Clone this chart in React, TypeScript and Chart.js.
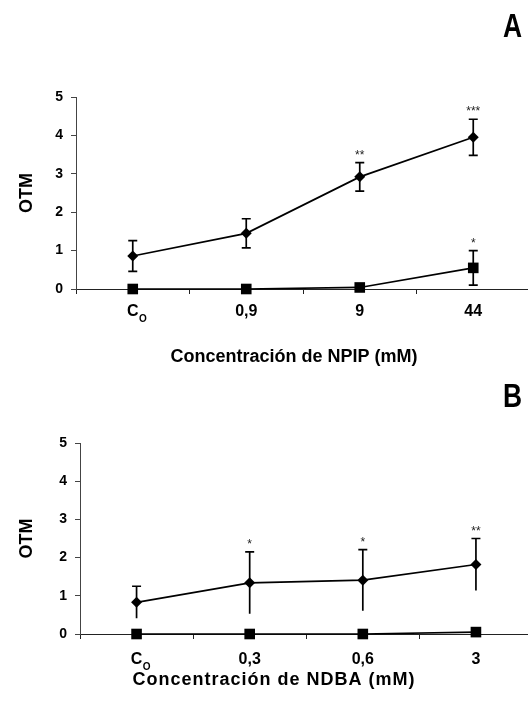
import { useEffect, useRef } from 'react';
import { Chart, registerables } from 'chart.js';

Chart.register(...registerables);

// Category labels (the control "C" gets a subscript "O")
const LABELS_NPIP = ['C', '0,9', '9', '44'];
const LABELS_NDBA = ['C', '0,3', '0,6', '3'];
const LABEL_SUBSCRIPTS = ['O', '', '', ''];
const Y_MIN = 0;
const Y_MAX = 5;
const Y_STEP = 1;

// Panel A: NPIP
const NPIP_DIAMOND = [0.86, 1.45, 2.92, 3.95];
const NPIP_DIAMOND_SD = [0.4, 0.38, 0.37, 0.47];
const NPIP_DIAMOND_STARS = ['', '', '**', '***'];
const NPIP_SQUARE = [0, 0, 0.04, 0.55];
const NPIP_SQUARE_SD = [0, 0, 0, 0.45];
const NPIP_SQUARE_STARS = ['', '', '', '*'];

// Panel B: NDBA
const NDBA_DIAMOND = [0.83, 1.34, 1.41, 1.82];
const NDBA_DIAMOND_SD = [0.42, 0.81, 0.8, 0.68];
const NDBA_DIAMOND_STARS = ['', '*', '*', '**'];
const NDBA_SQUARE = [0, 0, 0, 0.05];
const NDBA_SQUARE_SD = [0, 0, 0, 0.1];
const NDBA_SQUARE_STARS = ['', '', '', ''];

const SANS = "'Liberation Sans', Arial, sans-serif";
const TICK_X_SIZE = 16;

type PanelSpec = {
  letter: string;
  xTitle: string;
  xTitleSpacing: number;
  labels: string[];
  diamond: number[];
  diamondSd: number[];
  diamondStars: string[];
  diamondBottomCap: boolean;
  square: number[];
  squareSd: number[];
  squareStars: string[];
  canvasHeight: number;
  padTop: number;
  padRight: number;
  yAxisWidth: number;
  xAxisHeight: number;
  tickPad: number;
  xTitleBaseline: number;
  xTitleCenter: number;
};

const decorPlugin = {
  id: 'panelDecor',
  beforeDatasetsDraw(chart: any) {
    const ctx = chart.ctx;
    const ys = chart.scales.y;
    ctx.save();
    ctx.strokeStyle = '#000';
    ctx.lineWidth = 1.7;
    chart.data.datasets.forEach((ds: any, i: number) => {
      const meta = chart.getDatasetMeta(i);
      meta.data.forEach((pt: any, j: number) => {
        const sd = ds.sd[j];
        if (!sd) return;
        const v = ds.data[j];
        const top = ys.getPixelForValue(v + sd);
        const bot = ys.getPixelForValue(v - sd);
        const cap = 4.5;
        ctx.beginPath();
        ctx.moveTo(pt.x, top);
        ctx.lineTo(pt.x, bot);
        ctx.moveTo(pt.x - cap, top);
        ctx.lineTo(pt.x + cap, top);
        if (ds.bottomCap) {
          ctx.moveTo(pt.x - cap, bot);
          ctx.lineTo(pt.x + cap, bot);
        }
        ctx.stroke();
      });
    });
    ctx.restore();
  },
  afterDraw(chart: any, _args: any, opts: any) {
    const ctx = chart.ctx;
    const ys = chart.scales.y;
    const xs = chart.scales.x;
    const area = chart.chartArea;
    ctx.save();

    // significance marks above the error bars
    ctx.fillStyle = '#222';
    ctx.font = `12px ${SANS}`;
    ctx.textAlign = 'center';
    ctx.textBaseline = 'alphabetic';
    chart.data.datasets.forEach((ds: any, i: number) => {
      const meta = chart.getDatasetMeta(i);
      meta.data.forEach((pt: any, j: number) => {
        const s = ds.stars[j];
        if (!s) return;
        const top = ys.getPixelForValue(ds.data[j] + ds.sd[j]);
        ctx.fillText(s, pt.x, top - 4);
      });
    });

    // subscripts on the category labels
    ctx.fillStyle = '#000';
    ctx.textAlign = 'left';
    LABEL_SUBSCRIPTS.forEach((sub, j) => {
      if (!sub) return;
      const x = xs.getPixelForValue(j);
      ctx.font = `bold ${TICK_X_SIZE}px ${SANS}`;
      const w = ctx.measureText(chart.data.labels[j]).width;
      ctx.font = `bold 10px ${SANS}`;
      ctx.fillText(sub, x + w / 2 + 0.5, area.bottom + opts.subBaseline);
    });

    // panel letter (condensed)
    ctx.save();
    ctx.fillStyle = '#000';
    ctx.font = `bold 33px ${SANS}`;
    ctx.textAlign = 'left';
    ctx.translate(503, 36.5);
    ctx.scale(0.8, 1);
    ctx.fillText(opts.letter, 0, 0);
    ctx.restore();

    // y-axis title
    ctx.save();
    ctx.translate(32, (area.top + area.bottom) / 2);
    ctx.rotate(-Math.PI / 2);
    ctx.textAlign = 'center';
    ctx.font = `bold 18px ${SANS}`;
    ctx.fillText('OTM', 0, 0);
    ctx.restore();

    // x-axis title
    ctx.font = `bold 18px ${SANS}`;
    ctx.textAlign = 'center';
    (ctx as any).letterSpacing = `${opts.xTitleSpacing}px`;
    ctx.fillText(opts.xTitle, opts.xTitleCenter, opts.xTitleBaseline);
    (ctx as any).letterSpacing = '0px';

    ctx.restore();
  },
};

function buildConfig(p: PanelSpec): any {
  const lineStyle = {
    borderColor: '#000',
    backgroundColor: '#000',
    pointBorderColor: '#000',
    pointBackgroundColor: '#000',
    borderWidth: 1.7,
    clip: false,
    tension: 0,
  };
  return {
    type: 'line',
    data: {
      labels: p.labels,
      datasets: [
        {
          ...lineStyle,
          data: p.diamond,
          sd: p.diamondSd,
          stars: p.diamondStars,
          bottomCap: p.diamondBottomCap,
          pointStyle: 'rectRot',
          pointRadius: 5.5,
          pointBorderWidth: 0,
        },
        {
          ...lineStyle,
          data: p.square,
          sd: p.squareSd,
          stars: p.squareStars,
          bottomCap: true,
          pointStyle: 'rect',
          pointRadius: 7.5,
          pointBorderWidth: 0,
        },
      ],
    },
    options: {
      animation: false,
      responsive: false,
      maintainAspectRatio: false,
      events: [],
      layout: { padding: { top: p.padTop, right: p.padRight, left: 0, bottom: 0 } },
      plugins: {
        legend: { display: false },
        tooltip: { enabled: false },
        panelDecor: {
          letter: p.letter,
          xTitle: p.xTitle,
          xTitleSpacing: p.xTitleSpacing,
          xTitleBaseline: p.xTitleBaseline,
          xTitleCenter: p.xTitleCenter,
          subBaseline: p.tickPad + 5 + 20,
        },
      },
      scales: {
        x: {
          type: 'category',
          offset: true,
          grid: {
            offset: true,
            drawOnChartArea: false,
            drawTicks: true,
            tickLength: 5,
            color: '#222',
            lineWidth: 1,
          },
          border: { display: true, color: '#222', width: 1 },
          ticks: {
            color: '#000',
            font: { family: SANS, size: TICK_X_SIZE, weight: 'bold' },
            padding: p.tickPad,
            maxRotation: 0,
            autoSkip: false,
          },
          afterFit(s: any) {
            s.height = p.xAxisHeight;
          },
        },
        y: {
          min: Y_MIN,
          max: Y_MAX,
          grid: {
            drawOnChartArea: false,
            drawTicks: true,
            tickLength: 5,
            color: '#444',
            lineWidth: 1,
          },
          border: { display: true, color: '#444', width: 1 },
          ticks: {
            stepSize: Y_STEP,
            color: '#000',
            font: { family: SANS, size: 14, weight: 'bold' },
            padding: 8,
          },
          afterFit(s: any) {
            s.width = p.yAxisWidth;
          },
        },
      },
    },
    plugins: [decorPlugin],
  };
}

const PANEL_A: PanelSpec = {
  letter: 'A',
  xTitle: 'Concentración de NPIP (mM)',
  xTitleSpacing: 0,
  labels: LABELS_NPIP,
  diamond: NPIP_DIAMOND,
  diamondSd: NPIP_DIAMOND_SD,
  diamondStars: NPIP_DIAMOND_STARS,
  diamondBottomCap: true,
  square: NPIP_SQUARE,
  squareSd: NPIP_SQUARE_SD,
  squareStars: NPIP_SQUARE_STARS,
  canvasHeight: 370,
  padTop: 97,
  padRight: 10,
  yAxisWidth: 76,
  xAxisHeight: 81,
  tickPad: 8,
  xTitleBaseline: 362,
  xTitleCenter: 294,
};

const PANEL_B: PanelSpec = {
  letter: 'B',
  xTitle: 'Concentración de NDBA (mM)',
  xTitleSpacing: 1,
  labels: LABELS_NDBA,
  diamond: NDBA_DIAMOND,
  diamondSd: NDBA_DIAMOND_SD,
  diamondStars: NDBA_DIAMOND_STARS,
  diamondBottomCap: false,
  square: NDBA_SQUARE,
  squareSd: NDBA_SQUARE_SD,
  squareStars: NDBA_SQUARE_STARS,
  canvasHeight: 339,
  padTop: 73,
  padRight: 6,
  yAxisWidth: 80,
  xAxisHeight: 75,
  tickPad: 11,
  xTitleBaseline: 315,
  xTitleCenter: 274,
};

function Panel({ spec, top }: { spec: PanelSpec; top: number }) {
  const ref = useRef<HTMLCanvasElement | null>(null);
  useEffect(() => {
    if (!ref.current) return;
    const chart = new Chart(ref.current, buildConfig(spec));
    return () => chart.destroy();
  }, [spec]);
  return (
    <canvas
      ref={ref}
      width={540}
      height={spec.canvasHeight}
      style={{ position: 'absolute', left: 0, top, width: 540, height: spec.canvasHeight, display: 'block' }}
    />
  );
}

export default function App() {
  return (
    <div
      style={{
        position: 'fixed',
        left: 0,
        top: 0,
        width: 528,
        height: 709,
        overflow: 'hidden',
        background: '#fff',
      }}
    >
      <Panel spec={PANEL_A} top={0} />
      <Panel spec={PANEL_B} top={370} />
    </div>
  );
}
